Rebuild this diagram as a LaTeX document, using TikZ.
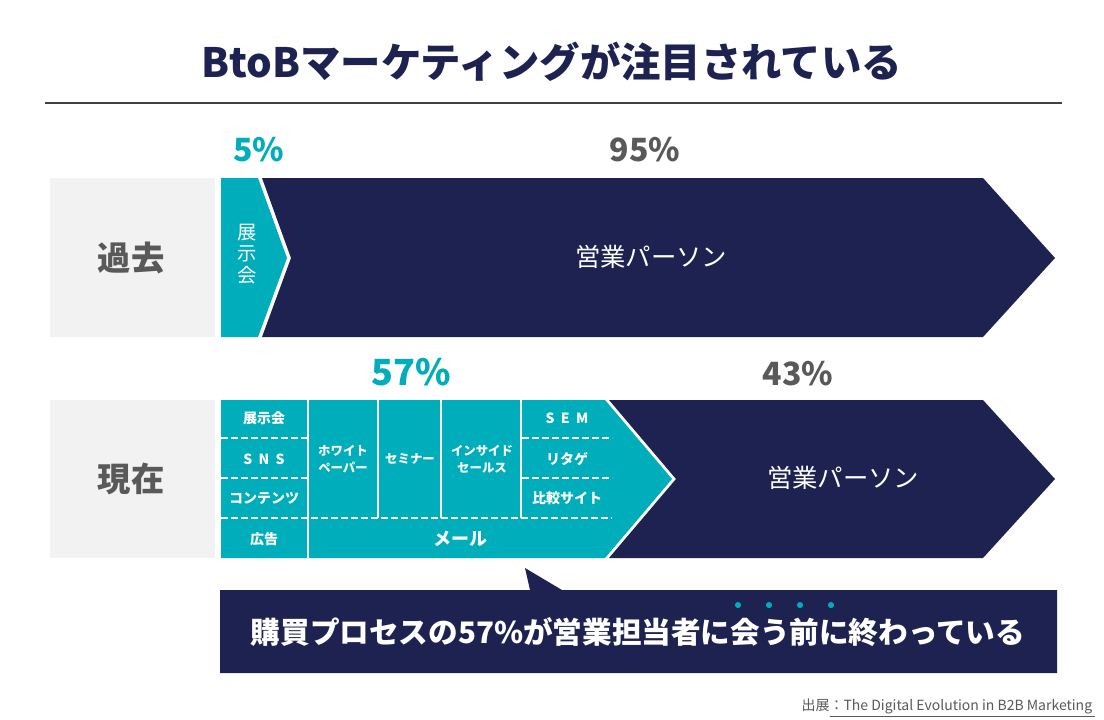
\documentclass[tikz,border=0pt]{standalone}
\usepackage{fontspec}
\setmainfont{Noto Sans CJK JP}
\definecolor{navy}{HTML}{1D2250}
\definecolor{teal}{HTML}{00ADBA}
\definecolor{panelgray}{HTML}{F2F2F2}
\definecolor{labelgray}{HTML}{595959}
\definecolor{rulegray}{HTML}{404040}
\tikzset{
  rowlabel/.style={font=\bfseries\fontsize{25}{30}\selectfont,text=labelgray},
  pct/.style={font=\bfseries\fontsize{24}{28}\selectfont},
  seller/.style={font=\fontsize{19}{22}\selectfont,text=white},
  cell/.style={font=\bfseries\fontsize{10.5}{13}\selectfont,text=white,align=center},
  midcell/.style={cell,font=\bfseries\fontsize{9.3}{12.5}\selectfont},
  cutline/.style={white,line width=1.5pt,dash pattern=on 5.2pt off 2.3pt},
  sepline/.style={white,line width=1.5pt},
}

\begin{document}
\begin{tikzpicture}[x=0.75pt,y=-0.75pt]
  \useasboundingbox[fill=white] (0,0) rectangle (1104,719);

  % Title and rule
  \node[font=\bfseries\fontsize{30.3}{36}\selectfont,text=navy] (title) at (552,62)
    {BtoBマーケティングが注目されている};
  \draw[rulegray,line width=1pt] (45,103) -- (1062,103);

  % Past: exhibitions vs. sales staff
  \fill[panelgray] (50,178) rectangle (215,337);
  \node[rowlabel] (past) at (131,258) {過去};
  \fill[navy] (262,178) -- (983,178) -- (1055,258) -- (983,337) -- (262,337) -- (291,258) -- cycle;
  \fill[teal] (221,178) -- (258,178) -- (287,258) -- (258,337) -- (221,337) -- cycle;
  \node[font=\fontsize{14.5}{16}\selectfont,text=white,align=center] (expo) at (247,254)
    {展\\示\\会};
  \node[seller] (salesold) at (651,257) {営業パーソン};
  \node[pct,text=teal] (pfive) at (259,150) {5\%};
  \node[pct,text=labelgray] (pninetyfive) at (645,150) {95\%};

  % Present: digital channels vs. sales staff
  \fill[panelgray] (50,400) rectangle (215,558);
  \node[rowlabel] (now) at (131,479) {現在};
  \fill[navy] (609,400) -- (983,400) -- (1055,479) -- (983,558) -- (609,558) -- (676,479) -- cycle;
  \fill[teal] (221,400) -- (605,400) -- (672,479) -- (605,558) -- (221,558) -- cycle;
  \node[seller] (salesnew) at (843,478) {営業パーソン};
  \node[pct,text=teal,font=\bfseries\fontsize{27}{32}\selectfont] (pfiftyseven) at (411,372) {57\%};
  \node[pct,text=labelgray] (pfortythree) at (798,374) {43\%};

  % cell borders
  \draw[sepline] (308,400) -- (308,558);
  \foreach \x in {378,441,521}
    \draw[sepline] (\x,400) -- (\x,518);
  \foreach \y in {438,478}
    {\draw[cutline] (221,\y) -- (307,\y);
     \draw[cutline] (522,\y) -- (612,\y);}
  \draw[cutline] (221,518) -- (612,518);

  % channel labels
  \node[cell] (c1) at (264,418) {展示会};
  \node[cell] (c2) at (264,459) {S\hspace{.45em}N\hspace{.45em}S};
  \node[cell] (c3) at (264,498) {コンテンツ};
  \node[cell] (c4) at (264,539) {広告};
  \node[midcell] (c5) at (343,459) {ホワイト\\ペーパー};
  \node[midcell] (c6) at (410,459) {セミナー};
  \node[midcell] (c7) at (482,459) {インサイド\\セールス};
  \node[cell] (c8) at (567,418) {S\hspace{.45em}E\hspace{.45em}M};
  \node[cell] (c9) at (567,459) {リタゲ};
  \node[cell] (c10) at (567,498) {比較サイト};
  \node[cell,font=\bfseries\fontsize{13.5}{16}\selectfont] (c11) at (460,539) {メール};

  % Callout
  \fill[navy] (220,590) -- (530,590) -- (525,568) -- (562,590) -- (1057,590)
    -- (1057,673) -- (220,673) -- cycle;
  \node[font=\bfseries\fontsize{22.2}{27}\selectfont,text=white] (message) at (638,632)
    {購買プロセスの57\%が営業担当者に会う前に終わっている};
  \foreach \x in {738,769,800,831}
    \fill[teal] (\x,605) circle (2.3pt);

  % Source
  \node[anchor=east,font=\fontsize{10.5}{12}\selectfont,text=labelgray] (source) at (1100,708)
    {出展\underline{：The Digital Evolution in B2B Marketing\ }};
\end{tikzpicture}
\end{document}
